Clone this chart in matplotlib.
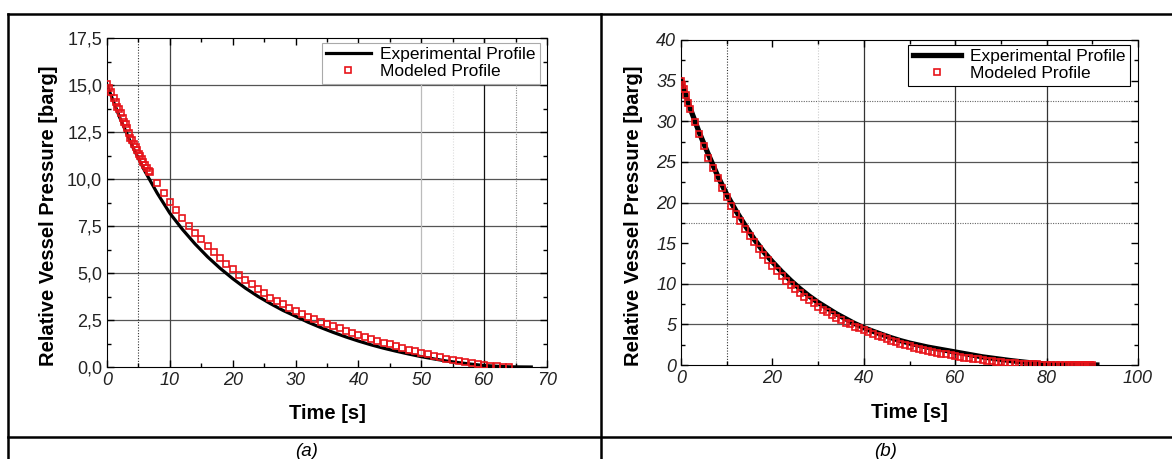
import matplotlib.pyplot as plt
from matplotlib.lines import Line2D
from matplotlib.ticker import MultipleLocator, FuncFormatter

plt.rcParams['font.family'] = ['Liberation Sans', 'DejaVu Sans']

# ---- panel (a) data ----
a_exp_t = [0, 2, 4, 6, 8, 10, 12, 14, 16, 18, 20, 22, 24, 26, 28, 30, 32, 34, 36, 38,
           40, 42, 44, 46, 48, 50, 52, 54, 56, 58, 60, 62, 64, 67.5]
a_exp_p = [15.0, 13.29, 11.77, 10.43, 9.24, 8.18, 7.32, 6.55, 5.86, 5.25, 4.7, 4.2, 3.76,
           3.37, 3.01, 2.7, 2.38, 2.1, 1.84, 1.6, 1.38, 1.18, 1.0, 0.84, 0.69, 0.55, 0.43,
           0.32, 0.23, 0.15, 0.08, 0.04, 0.01, 0.0]

a_mod_t = [0, 0.3, 0.7, 1.1, 1.4, 1.6, 1.9, 2.2, 2.5, 2.7, 3.0, 3.2, 3.5, 3.7, 4.0, 4.3,
           4.6, 4.8, 5.1, 5.3, 5.6, 5.8, 6.1, 6.4, 6.7, 6.9,
           8, 9, 10, 11, 12, 13, 14, 15, 16, 17, 18, 19, 20, 21, 22, 23, 24, 25, 26, 27,
           28, 29, 30, 31, 32, 33, 34, 35, 36, 37, 38, 39, 40, 41, 42, 43, 44, 45, 46, 47,
           48, 49, 50, 51, 52, 53, 54, 55, 56, 57, 58, 59, 60, 61, 62, 63, 64]
a_mod_p = [15.05, 14.85, 14.64, 14.3, 14.1, 13.85, 13.7, 13.5, 13.25, 13.05, 12.9, 12.7,
           12.45, 12.2, 12.05, 11.86, 11.7, 11.55, 11.35, 11.2, 11.05, 10.9, 10.75, 10.58,
           10.45, 10.37,
           9.77, 9.27, 8.79, 8.35, 7.91, 7.5, 7.11, 6.81, 6.45, 6.1, 5.78, 5.46, 5.2, 4.89,
           4.63, 4.41, 4.13, 3.93, 3.69, 3.51, 3.35, 3.14, 2.96, 2.82, 2.68, 2.55, 2.42,
           2.29, 2.17, 2.05, 1.93, 1.82, 1.71, 1.6, 1.5, 1.4, 1.3, 1.2, 1.1, 1.01, 0.92,
           0.83, 0.75, 0.67, 0.59, 0.52, 0.45, 0.38, 0.31, 0.25, 0.19, 0.14, 0.1, 0.06,
           0.04, 0.02, 0.01]

# ---- panel (b) data ----
b_exp_t = [0, 2, 4, 6, 8, 10, 12, 14, 16, 18, 20, 22, 24, 26, 28, 30, 32, 34, 36, 38,
           40, 42, 44, 46, 48, 50, 52, 54, 56, 58, 60, 62, 64, 66, 68, 70, 72, 74, 76, 78,
           80, 84, 88, 91]
b_exp_p = [35.0, 31.6, 28.6, 25.9, 23.3, 21.0, 19.0, 17.2, 15.5, 14.0, 12.7, 11.5, 10.4,
           9.4, 8.5, 7.7, 7.0, 6.3, 5.7, 5.1, 4.6, 4.15, 3.75, 3.35, 3.0, 2.7, 2.45, 2.2,
           2.0, 1.8, 1.6, 1.4, 1.2, 1.0, 0.85, 0.7, 0.55, 0.42, 0.3, 0.2, 0.12, 0.05, 0.02,
           0.0]

b_mod_t = [0, 0.3, 0.6, 1, 1.5, 2, 3, 4, 5, 6, 7, 8, 9, 10, 11, 12, 13, 14, 15, 16, 17,
           18, 19, 20, 21, 22, 23, 24, 25, 26, 27, 28, 29, 30, 31, 32, 33, 34, 35, 36, 37,
           38, 39, 40, 41, 42, 43, 44, 45, 46, 47, 48, 49, 50, 51, 52, 53, 54, 55, 56, 57,
           58, 59, 60, 61, 62, 63, 64, 65, 66, 67, 68, 69, 70, 71, 72, 73, 74, 75, 76, 77,
           78, 79, 80, 81, 82, 83, 84, 85, 85.5, 86, 86.5, 87, 87.5, 88, 88.5, 89, 89.5, 90]
b_mod_p = [35.0, 34.5, 34.0, 33.2, 32.3, 31.5, 29.9, 28.4, 26.9, 25.5, 24.2, 23.0, 21.8,
           20.7, 19.6, 18.6, 17.7, 16.8, 15.9, 15.1, 14.3, 13.6, 12.9, 12.2, 11.6, 11.0,
           10.4, 9.9, 9.4, 8.9, 8.4, 8.0, 7.6, 7.2, 6.8, 6.5, 6.1, 5.8, 5.5, 5.2, 5.0, 4.7,
           4.5, 4.3, 4.05, 3.8, 3.6, 3.4, 3.2, 3.0, 2.8, 2.6, 2.45, 2.3, 2.15, 2.0, 1.85,
           1.7, 1.6, 1.5, 1.4, 1.3, 1.2, 1.1, 1.0, 0.92, 0.84, 0.76, 0.68, 0.6, 0.53, 0.46,
           0.4, 0.35, 0.3, 0.25, 0.21, 0.17, 0.14, 0.11, 0.09, 0.07, 0.05, 0.04, 0.03, 0.02,
           0.02, 0.01, 0.01, 0.01, 0.01, 0.01, 0.0, 0.0, 0.0, 0.0, 0.0, 0.0, 0.0]

RED = '#e8141a'
TICK_FS = 13
LABEL_FS = 14.5
LEG_FS = 12.5

fig = plt.figure(figsize=(11.72, 4.59), dpi=100)

# table-like frame around the two panels
def fline(x0, y0, x1, y1):
    W, H = 1172, 459
    fig.add_artist(Line2D([x0 / W, x1 / W], [1 - y0 / H, 1 - y1 / H],
                          transform=fig.transFigure, color='black', lw=1.8))

fline(8, 14, 1172, 14)
fline(8, 437, 1172, 437)
fline(8, 14, 8, 459)
fline(601, 14, 601, 459)
fig.text(307 / 1172, 1 - 452 / 459, '(a)', ha='center', va='center', fontsize=13.5, style='italic')
fig.text(886 / 1172, 1 - 452 / 459, '(b)', ha='center', va='center', fontsize=13.5, style='italic')

# ---------------- panel (a) ----------------
ax = fig.add_axes([107 / 1172, 92 / 459, 440 / 1172, 329 / 459])
ax.set_xlim(0, 70)
ax.set_ylim(0, 17.5)
for y in [2.5, 5, 7.5, 10, 12.5, 15]:
    ax.axhline(y, color='#555555', lw=0.9, zorder=1)
ax.axvline(5, color='#333333', lw=0.8, ls=(0, (1, 1.5)), zorder=1)
ax.axvline(10, color='#444444', lw=0.9, zorder=1)
ax.axvline(50, color='#bbbbbb', lw=0.9, zorder=1)
ax.axvline(55, color='#dddddd', lw=0.8, ls=(0, (1, 1.5)), zorder=1)
ax.axvline(60, color='#111111', lw=0.9, zorder=1)
ax.axvline(65, color='#888888', lw=0.8, ls=(0, (1, 1.2)), zorder=1)

ax.plot(a_exp_t, a_exp_p, color='black', lw=2.3, zorder=3, label='Experimental Profile')
ax.plot(a_mod_t, a_mod_p, ls='none', marker='s', ms=4.8, mfc='none', mec=RED, mew=1.2,
        zorder=4, label='Modeled Profile')

ax.xaxis.set_major_locator(MultipleLocator(10))
ax.xaxis.set_minor_locator(MultipleLocator(5))
ax.yaxis.set_major_locator(MultipleLocator(2.5))
ax.yaxis.set_minor_locator(MultipleLocator(1.25))
ax.yaxis.set_major_formatter(FuncFormatter(lambda v, p: f'{v:.1f}'.replace('.', ',')))
ax.tick_params(which='both', direction='in', top=True, right=True, labelsize=TICK_FS,
               labelcolor='#222222')
ax.tick_params(which='major', length=5, width=1)
ax.tick_params(which='minor', length=3, width=1)
for lab in ax.get_xticklabels():
    lab.set_style('italic')
ax.set_xlabel('Time [s]', fontsize=LABEL_FS, fontweight='bold')
ax.set_ylabel('Relative Vessel Pressure [barg]', fontsize=LABEL_FS, fontweight='bold')
ax.yaxis.set_label_coords(-0.111, 0.46)
ax.xaxis.set_label_coords(0.5, -0.113)
leg = ax.legend(loc='upper right', bbox_to_anchor=(0.983, 0.985), borderaxespad=0,
                fontsize=LEG_FS, fancybox=False, framealpha=1, edgecolor='#aaaaaa',
                handlelength=2.6, handletextpad=0.5, borderpad=0.25, labelspacing=0.1)
leg.get_frame().set_linewidth(0.8)

# ---------------- panel (b) ----------------
bx = fig.add_axes([681 / 1172, 94 / 459, 457 / 1172, 325 / 459])
bx.set_xlim(0, 100)
bx.set_ylim(0, 40)
for y in [5, 10, 20, 25, 30]:
    bx.axhline(y, color='#555555', lw=0.9, zorder=1)
for y in [17.5, 32.5]:
    bx.axhline(y, color='#666666', lw=0.8, ls=(0, (1, 1.2)), zorder=1)
bx.axvline(10, color='#333333', lw=0.8, ls=(0, (1, 1.5)), zorder=1)
bx.axvline(30, color='#cccccc', lw=0.8, ls=(0, (1, 1.5)), zorder=1)
for x in [40, 60, 80]:
    bx.axvline(x, color='#333333', lw=0.9, zorder=1)

bx.plot(b_exp_t, b_exp_p, color='black', lw=3.8, zorder=3, label='Experimental Profile')
bx.plot(b_mod_t, b_mod_p, ls='none', marker='s', ms=4.6, mfc='none', mec=RED, mew=1.2,
        zorder=4, label='Modeled Profile')

bx.xaxis.set_major_locator(MultipleLocator(20))
bx.xaxis.set_minor_locator(MultipleLocator(10))
bx.yaxis.set_major_locator(MultipleLocator(5))
bx.yaxis.set_minor_locator(MultipleLocator(2.5))
bx.tick_params(which='both', direction='in', top=True, right=True, labelsize=TICK_FS,
               labelcolor='#222222')
bx.tick_params(which='major', length=5, width=1)
bx.tick_params(which='minor', length=3, width=1)
for lab in bx.get_xticklabels() + bx.get_yticklabels():
    lab.set_style('italic')
bx.set_xlabel('Time [s]', fontsize=LABEL_FS, fontweight='bold')
bx.set_ylabel('Relative Vessel Pressure [barg]', fontsize=LABEL_FS, fontweight='bold')
bx.yaxis.set_label_coords(-0.083, 0.46)
bx.xaxis.set_label_coords(0.5, -0.117)
leg = bx.legend(loc='upper right', bbox_to_anchor=(0.982, 0.985), borderaxespad=0,
                fontsize=LEG_FS, fancybox=False, framealpha=1, edgecolor='black',
                handlelength=2.8, handletextpad=0.5, borderpad=0.25, labelspacing=0.1)
leg.get_frame().set_linewidth(0.8)

fig.savefig('out.png', dpi=100)
